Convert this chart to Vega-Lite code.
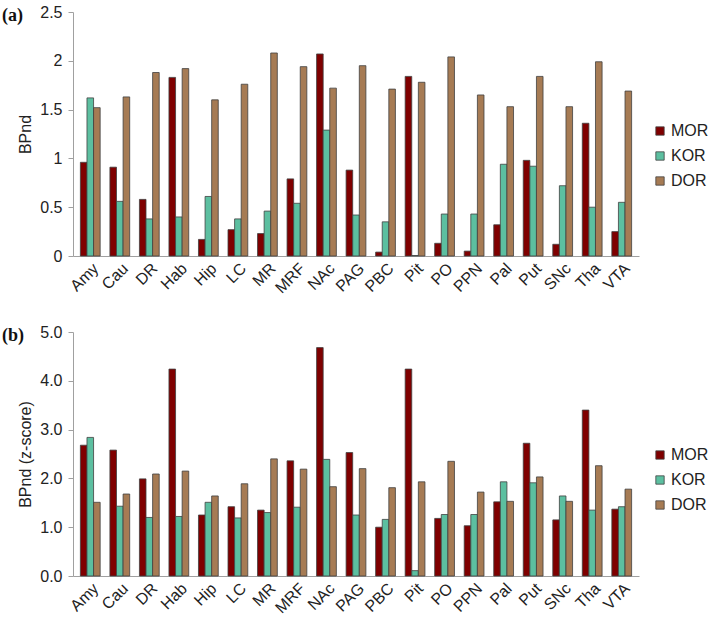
{
  "$schema": "https://vega.github.io/schema/vega-lite/v6.json",
  "background": "white",
  "padding": {"left": 2, "top": 4, "right": 0, "bottom": 0},
  "spacing": 28,
  "datasets": {
    "a": [
      {"region": "Amy", "receptor": "MOR", "value": 0.96}, {"region": "Amy", "receptor": "KOR", "value": 1.62}, {"region": "Amy", "receptor": "DOR", "value": 1.52},
      {"region": "Cau", "receptor": "MOR", "value": 0.91}, {"region": "Cau", "receptor": "KOR", "value": 0.56}, {"region": "Cau", "receptor": "DOR", "value": 1.63},
      {"region": "DR", "receptor": "MOR", "value": 0.58}, {"region": "DR", "receptor": "KOR", "value": 0.38}, {"region": "DR", "receptor": "DOR", "value": 1.88},
      {"region": "Hab", "receptor": "MOR", "value": 1.83}, {"region": "Hab", "receptor": "KOR", "value": 0.40}, {"region": "Hab", "receptor": "DOR", "value": 1.92},
      {"region": "Hip", "receptor": "MOR", "value": 0.17}, {"region": "Hip", "receptor": "KOR", "value": 0.61}, {"region": "Hip", "receptor": "DOR", "value": 1.60},
      {"region": "LC", "receptor": "MOR", "value": 0.27}, {"region": "LC", "receptor": "KOR", "value": 0.38}, {"region": "LC", "receptor": "DOR", "value": 1.76},
      {"region": "MR", "receptor": "MOR", "value": 0.23}, {"region": "MR", "receptor": "KOR", "value": 0.46}, {"region": "MR", "receptor": "DOR", "value": 2.08},
      {"region": "MRF", "receptor": "MOR", "value": 0.79}, {"region": "MRF", "receptor": "KOR", "value": 0.54}, {"region": "MRF", "receptor": "DOR", "value": 1.94},
      {"region": "NAc", "receptor": "MOR", "value": 2.07}, {"region": "NAc", "receptor": "KOR", "value": 1.29}, {"region": "NAc", "receptor": "DOR", "value": 1.72},
      {"region": "PAG", "receptor": "MOR", "value": 0.88}, {"region": "PAG", "receptor": "KOR", "value": 0.42}, {"region": "PAG", "receptor": "DOR", "value": 1.95},
      {"region": "PBC", "receptor": "MOR", "value": 0.04}, {"region": "PBC", "receptor": "KOR", "value": 0.35}, {"region": "PBC", "receptor": "DOR", "value": 1.71},
      {"region": "Pit", "receptor": "MOR", "value": 1.84}, {"region": "Pit", "receptor": "KOR", "value": 0.005}, {"region": "Pit", "receptor": "DOR", "value": 1.78},
      {"region": "PO", "receptor": "MOR", "value": 0.13}, {"region": "PO", "receptor": "KOR", "value": 0.43}, {"region": "PO", "receptor": "DOR", "value": 2.04},
      {"region": "PPN", "receptor": "MOR", "value": 0.05}, {"region": "PPN", "receptor": "KOR", "value": 0.43}, {"region": "PPN", "receptor": "DOR", "value": 1.65},
      {"region": "Pal", "receptor": "MOR", "value": 0.32}, {"region": "Pal", "receptor": "KOR", "value": 0.94}, {"region": "Pal", "receptor": "DOR", "value": 1.53},
      {"region": "Put", "receptor": "MOR", "value": 0.98}, {"region": "Put", "receptor": "KOR", "value": 0.92}, {"region": "Put", "receptor": "DOR", "value": 1.84},
      {"region": "SNc", "receptor": "MOR", "value": 0.12}, {"region": "SNc", "receptor": "KOR", "value": 0.72}, {"region": "SNc", "receptor": "DOR", "value": 1.53},
      {"region": "Tha", "receptor": "MOR", "value": 1.36}, {"region": "Tha", "receptor": "KOR", "value": 0.50}, {"region": "Tha", "receptor": "DOR", "value": 1.99},
      {"region": "VTA", "receptor": "MOR", "value": 0.25}, {"region": "VTA", "receptor": "KOR", "value": 0.55}, {"region": "VTA", "receptor": "DOR", "value": 1.69}
    ],
    "b": [
      {"region": "Amy", "receptor": "MOR", "value": 2.68}, {"region": "Amy", "receptor": "KOR", "value": 2.84}, {"region": "Amy", "receptor": "DOR", "value": 1.51},
      {"region": "Cau", "receptor": "MOR", "value": 2.58}, {"region": "Cau", "receptor": "KOR", "value": 1.43}, {"region": "Cau", "receptor": "DOR", "value": 1.68},
      {"region": "DR", "receptor": "MOR", "value": 1.99}, {"region": "DR", "receptor": "KOR", "value": 1.20}, {"region": "DR", "receptor": "DOR", "value": 2.09},
      {"region": "Hab", "receptor": "MOR", "value": 4.24}, {"region": "Hab", "receptor": "KOR", "value": 1.22}, {"region": "Hab", "receptor": "DOR", "value": 2.15},
      {"region": "Hip", "receptor": "MOR", "value": 1.25}, {"region": "Hip", "receptor": "KOR", "value": 1.51}, {"region": "Hip", "receptor": "DOR", "value": 1.64},
      {"region": "LC", "receptor": "MOR", "value": 1.42}, {"region": "LC", "receptor": "KOR", "value": 1.19}, {"region": "LC", "receptor": "DOR", "value": 1.89},
      {"region": "MR", "receptor": "MOR", "value": 1.35}, {"region": "MR", "receptor": "KOR", "value": 1.30}, {"region": "MR", "receptor": "DOR", "value": 2.40},
      {"region": "MRF", "receptor": "MOR", "value": 2.36}, {"region": "MRF", "receptor": "KOR", "value": 1.41}, {"region": "MRF", "receptor": "DOR", "value": 2.19},
      {"region": "NAc", "receptor": "MOR", "value": 4.68}, {"region": "NAc", "receptor": "KOR", "value": 2.39}, {"region": "NAc", "receptor": "DOR", "value": 1.83},
      {"region": "PAG", "receptor": "MOR", "value": 2.53}, {"region": "PAG", "receptor": "KOR", "value": 1.25}, {"region": "PAG", "receptor": "DOR", "value": 2.20},
      {"region": "PBC", "receptor": "MOR", "value": 1.00}, {"region": "PBC", "receptor": "KOR", "value": 1.16}, {"region": "PBC", "receptor": "DOR", "value": 1.81},
      {"region": "Pit", "receptor": "MOR", "value": 4.24}, {"region": "Pit", "receptor": "KOR", "value": 0.11}, {"region": "Pit", "receptor": "DOR", "value": 1.93},
      {"region": "PO", "receptor": "MOR", "value": 1.18}, {"region": "PO", "receptor": "KOR", "value": 1.26}, {"region": "PO", "receptor": "DOR", "value": 2.35},
      {"region": "PPN", "receptor": "MOR", "value": 1.03}, {"region": "PPN", "receptor": "KOR", "value": 1.26}, {"region": "PPN", "receptor": "DOR", "value": 1.72},
      {"region": "Pal", "receptor": "MOR", "value": 1.52}, {"region": "Pal", "receptor": "KOR", "value": 1.93}, {"region": "Pal", "receptor": "DOR", "value": 1.53},
      {"region": "Put", "receptor": "MOR", "value": 2.72}, {"region": "Put", "receptor": "KOR", "value": 1.91}, {"region": "Put", "receptor": "DOR", "value": 2.03},
      {"region": "SNc", "receptor": "MOR", "value": 1.15}, {"region": "SNc", "receptor": "KOR", "value": 1.64}, {"region": "SNc", "receptor": "DOR", "value": 1.53},
      {"region": "Tha", "receptor": "MOR", "value": 3.40}, {"region": "Tha", "receptor": "KOR", "value": 1.35}, {"region": "Tha", "receptor": "DOR", "value": 2.26},
      {"region": "VTA", "receptor": "MOR", "value": 1.37}, {"region": "VTA", "receptor": "KOR", "value": 1.42}, {"region": "VTA", "receptor": "DOR", "value": 1.78}
    ]
  },
  "resolve": {"legend": {"color": "independent"}},
  "vconcat": [
    {
      "data": {"name": "a"},
      "width": 566,
      "height": 244,
      "title": {"text": "(a)", "dx": -71, "offset": -21},
      "mark": {"type": "bar", "stroke": "#404040", "strokeWidth": 0.8},
      "encoding": {
        "x": {
          "field": "region", "type": "nominal", "sort": null,
          "scale": {"paddingInner": 0.33, "paddingOuter": 0.25},
          "axis": {"title": null}
        },
        "xOffset": {"field": "receptor", "type": "nominal", "sort": ["MOR", "KOR", "DOR"]},
        "y": {
          "field": "value", "type": "quantitative",
          "scale": {"domain": [0, 2.5]},
          "axis": {"title": "BPnd", "values": [0, 0.5, 1, 1.5, 2, 2.5], "format": "~g"}
        },
        "color": {
          "field": "receptor", "type": "nominal",
          "scale": {"domain": ["MOR", "KOR", "DOR"], "range": ["#7f0000", "#5cbfa0", "#a67b54"]},
          "legend": {"title": null, "orient": "none", "legendX": 579, "legendY": 111}
        }
      }
    },
    {
      "data": {"name": "b"},
      "width": 566,
      "height": 244,
      "title": {"text": "(b)", "dx": -71, "offset": -21},
      "mark": {"type": "bar", "stroke": "#404040", "strokeWidth": 0.8},
      "encoding": {
        "x": {
          "field": "region", "type": "nominal", "sort": null,
          "scale": {"paddingInner": 0.33, "paddingOuter": 0.25},
          "axis": {"title": null}
        },
        "xOffset": {"field": "receptor", "type": "nominal", "sort": ["MOR", "KOR", "DOR"]},
        "y": {
          "field": "value", "type": "quantitative",
          "scale": {"domain": [0, 5]},
          "axis": {"title": "BPnd (z-score)", "values": [0, 1, 2, 3, 4, 5], "format": ".1f"}
        },
        "color": {
          "field": "receptor", "type": "nominal",
          "scale": {"domain": ["MOR", "KOR", "DOR"], "range": ["#7f0000", "#5cbfa0", "#a67b54"]},
          "legend": {"title": null, "orient": "none", "legendX": 579, "legendY": 115}
        }
      }
    }
  ],
  "config": {
    "font": "Liberation Sans",
    "view": {"stroke": null},
    "title": {"font": "Liberation Serif", "fontSize": 18, "fontWeight": "bold", "anchor": "start", "frame": "group", "color": "#111"},
    "axis": {
      "grid": false,
      "domainColor": "#a0a0a0",
      "tickColor": "#a0a0a0",
      "labelColor": "#222",
      "labelFontSize": 16,
      "titleFontSize": 16,
      "titleFontWeight": "normal",
      "titleColor": "#222"
    },
    "axisX": {"ticks": false, "labelAngle": -45, "labelPadding": 4},
    "axisY": {"tickSize": 5, "labelPadding": 6, "titlePadding": 6},
    "legend": {
      "symbolType": "square", "symbolSize": 70, "symbolStrokeColor": "#404040", "symbolStrokeWidth": 0.8,
      "labelFontSize": 16, "labelColor": "#222", "rowPadding": 9, "labelOffset": 3
    }
  }
}
